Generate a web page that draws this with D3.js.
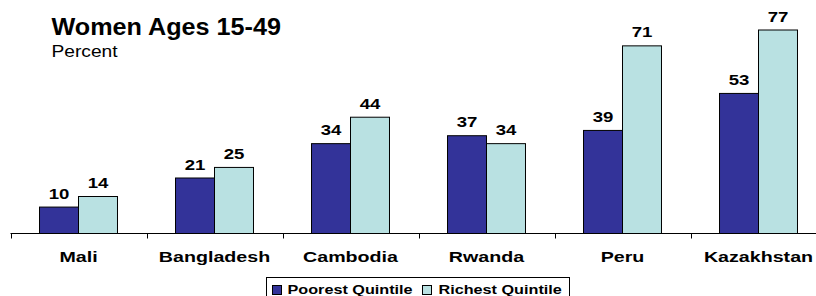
<!DOCTYPE html>
<html>
<head>
<meta charset="utf-8">
<script src="https://cdn.jsdelivr.net/npm/d3@7"></script>
<style>
  html, body { margin: 0; padding: 0; background: #fff; }
  svg { display: block; font-family: "Liberation Sans", Arial, sans-serif; }
</style>
</head>
<body>
<svg id="chart" width="816" height="296"></svg>
<script>
const categories = ["Mali", "Bangladesh", "Cambodia", "Rwanda", "Peru", "Kazakhstan"];
const seriesNames = ["Poorest Quintile", "Richest Quintile"];
const poorest = [10, 21, 34, 37, 39, 53];
const richest = [14, 25, 44, 34, 71, 77];
const colors = ["#333399", "#B9E1E2"];

const svg = d3.select("#chart");
const baseY = 233.5;

const x0 = d3.scaleBand().domain(categories).range([10.5, 10.5 + 6 * 136]).paddingInner(0).paddingOuter(0);
const x1 = d3.scaleBand().domain(seriesNames).range([0, x0.bandwidth()]).paddingInner(0).paddingOuter(0.744);
const y = d3.scaleLinear().domain([0, 77]).range([baseY, 30]);

function stretchedText(g, x, yy, str, size, weight, sx, anchor) {
  return g.append("text")
    .attr("transform", `translate(${x},${yy}) scale(${sx},1)`)
    .attr("text-anchor", anchor || "middle")
    .attr("font-size", size)
    .attr("font-weight", weight)
    .attr("fill", "#000")
    .text(str);
}

// Title
stretchedText(svg, 51.5, 35, "Women Ages 15-49", 23, "bold", 1.095, "start");
stretchedText(svg, 51.5, 57, "Percent", 16, "normal", 1.2, "start");

// Bars
const data = categories.map((c, i) => ({ cat: c, vals: [
  { key: seriesNames[0], v: poorest[i], color: colors[0] },
  { key: seriesNames[1], v: richest[i], color: colors[1] }
]}));

const groups = svg.append("g").selectAll("g").data(data).join("g")
  .attr("transform", d => `translate(${x0(d.cat)},0)`);

groups.selectAll("rect").data(d => d.vals).join("rect")
  .attr("x", d => x1(d.key))
  .attr("y", d => y(d.v))
  .attr("width", x1.bandwidth())
  .attr("height", d => baseY - y(d.v))
  .attr("fill", d => d.color)
  .attr("stroke", "#000")
  .attr("stroke-width", 1);

groups.each(function(d) {
  const g = d3.select(this);
  d.vals.forEach(v => {
    stretchedText(g, x1(v.key) + x1.bandwidth() / 2, y(v.v) - 8.5, String(v.v), 15, "bold", 1.24);
  });
});

// Axis
const axis = d3.axisBottom(x0).tickSize(0).tickFormat("");
const axG = svg.append("g").attr("transform", `translate(0,${baseY})`);
axG.append("line").attr("x1", 10.5).attr("x2", 816).attr("y1", 0).attr("y2", 0)
  .attr("stroke", "#000").attr("stroke-width", 1);
const bounds = categories.map(c => x0(c)).concat([x0(categories[categories.length - 1]) + x0.bandwidth()]);
axG.selectAll("line.tick").data(bounds).join("line")
  .attr("class", "tick")
  .attr("x1", d => Math.round(d) + 0.5).attr("x2", d => Math.round(d) + 0.5)
  .attr("y1", 0).attr("y2", 5)
  .attr("stroke", "#000").attr("stroke-width", 1);

categories.forEach(c => {
  stretchedText(svg, x0(c) + x0.bandwidth() / 2, 261.5, c, 15, "bold", 1.31);
});

// Legend
const leg = svg.append("g");
leg.append("rect").attr("x", 266.5).attr("y", 277.5).attr("width", 303).attr("height", 30)
  .attr("fill", "#fff").attr("stroke", "#000").attr("stroke-width", 1);
const legX = [272.5, 422.5];
const legTextX = [287.5, 438.5];
seriesNames.forEach((s, i) => {
  leg.append("rect").attr("x", legX[i]).attr("y", 285.5).attr("width", 9).attr("height", 9)
    .attr("fill", colors[i]).attr("stroke", "#000").attr("stroke-width", 1);
  stretchedText(leg, legTextX[i], 294, s, 13.5, "bold", 1.2, "start");
});
</script>
</body>
</html>
